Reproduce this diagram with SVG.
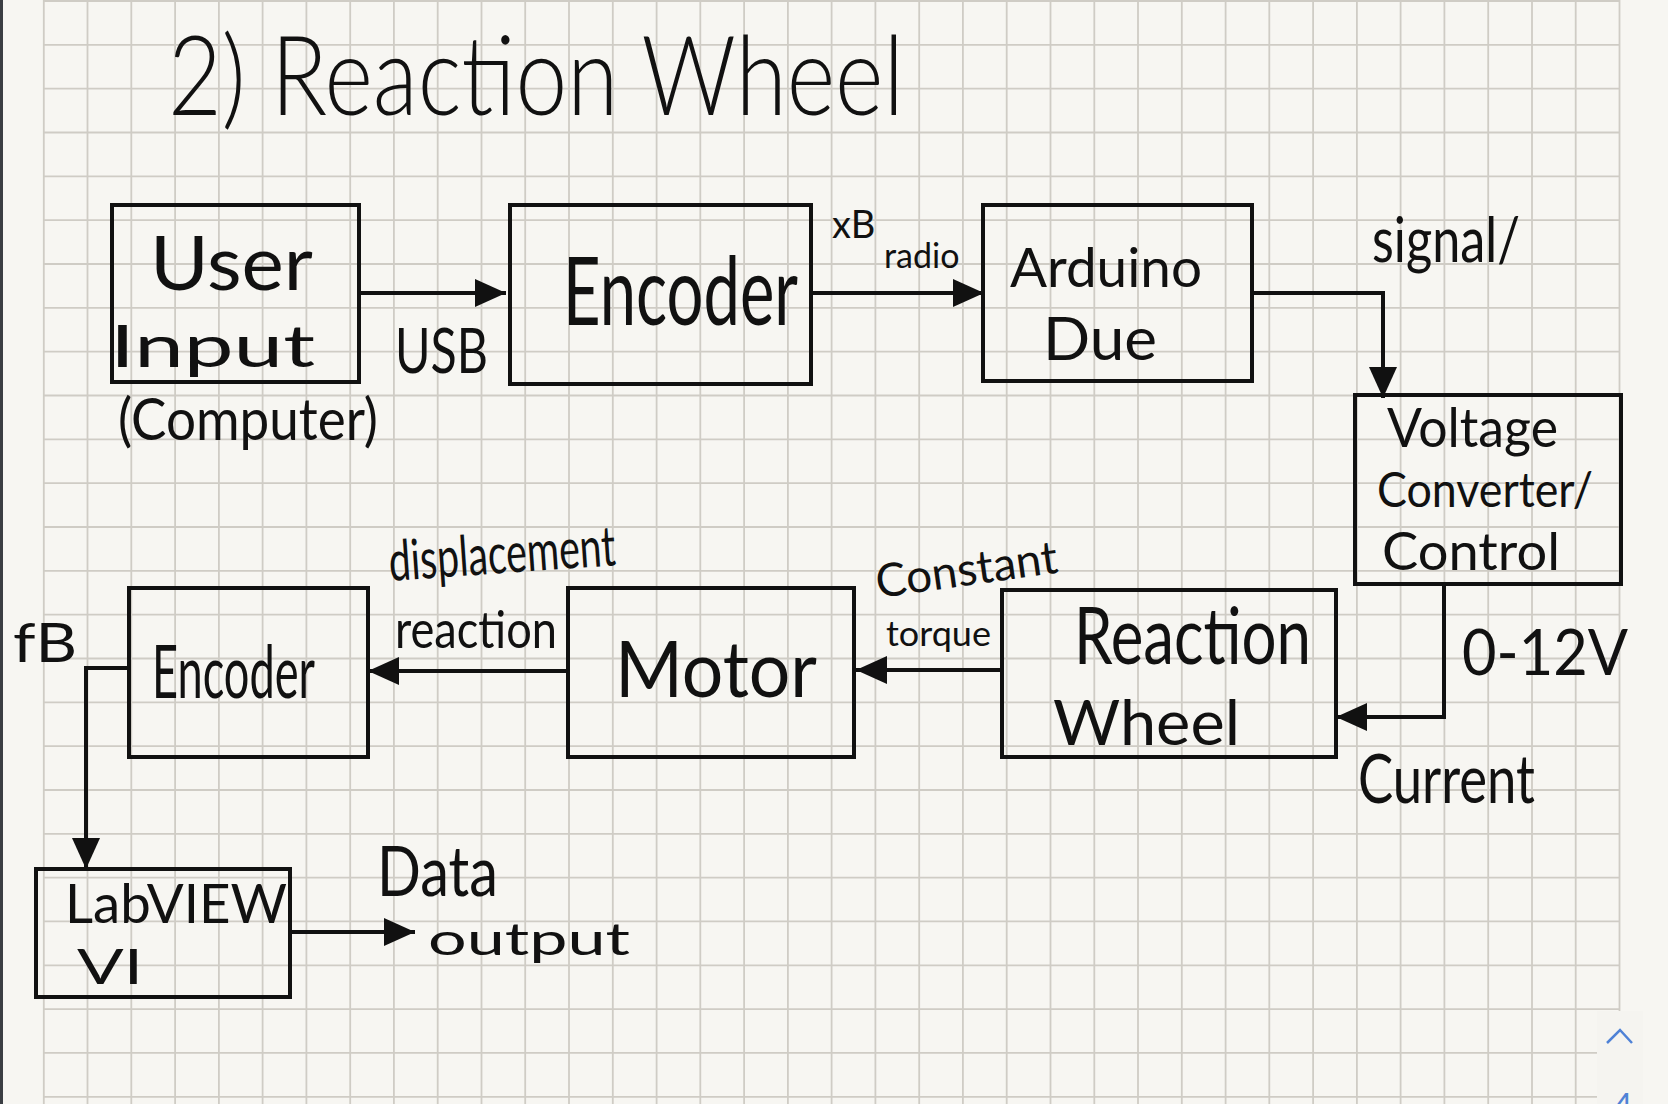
<svg xmlns="http://www.w3.org/2000/svg" width="1668" height="1104" viewBox="0 0 1668 1104">
<style>
.paper{fill:#f7f6f2}
.grid{fill:none;stroke:#cfccc5;stroke-width:1.8}
.box{fill:none;stroke:#111;stroke-width:4}
.conn{fill:none;stroke:#111;stroke-width:4}
.t{font-family:Lato,"Liberation Sans",sans-serif;fill:#111}
.title{font-family:Lato,"Liberation Sans",sans-serif;font-weight:300;fill:#111}
</style>
<defs>
<marker id="ah" markerUnits="userSpaceOnUse" markerWidth="32" markerHeight="28" refX="31" refY="14" orient="auto">
<path d="M0,0 L31,14 L0,28 Z" fill="#111"/>
</marker>
</defs>
<rect class="paper" x="0" y="0" width="1668" height="1104"/>
<g id="grid">
<path class="grid" d="M43.8,0V1104M87.5,0V1104M131.3,0V1104M175.1,0V1104M218.9,0V1104M262.6,0V1104M306.4,0V1104M350.2,0V1104M393.9,0V1104M437.7,0V1104M481.5,0V1104M525.2,0V1104M569,0V1104M612.8,0V1104M656.6,0V1104M700.3,0V1104M744.1,0V1104M787.9,0V1104M831.6,0V1104M875.4,0V1104M919.2,0V1104M962.9,0V1104M1006.7,0V1104M1050.5,0V1104M1094.3,0V1104M1138,0V1104M1181.8,0V1104M1225.6,0V1104M1269.3,0V1104M1313.1,0V1104M1356.9,0V1104M1400.6,0V1104M1444.4,0V1104M1488.2,0V1104M1532,0V1104M1575.7,0V1104M1619.5,0V1104"/>
<path class="grid" d="M43.8,1H1620M43.8,44.8H1620M43.8,88.7H1620M43.8,132.5H1620M43.8,176.3H1620M43.8,220.2H1620M43.8,264H1620M43.8,307.8H1620M43.8,351.6H1620M43.8,395.5H1620M43.8,439.3H1620M43.8,483.1H1620M43.8,527H1620M43.8,570.8H1620M43.8,614.6H1620M43.8,658.5H1620M43.8,702.3H1620M43.8,746.1H1620M43.8,790H1620M43.8,833.8H1620M43.8,877.6H1620M43.8,921.4H1620M43.8,965.3H1620M43.8,1009.1H1620M43.8,1052.9H1620M43.8,1096.8H1620"/>
</g>
<rect x="0" y="0" width="3" height="1104" fill="#3b3e43"/>
<rect x="1597" y="1011" width="46" height="93" fill="#f5f4f0"/>
<path d="M1607,1043 L1620,1030 L1632,1043" fill="none" stroke="#4f82d6" stroke-width="2.5"/>
<text x="1613" y="1118" font-family="Lato,'Liberation Sans',sans-serif" font-size="34" fill="#4f82d6">4</text>

<text class="title" x="168" y="115" font-size="110" textLength="736" lengthAdjust="spacingAndGlyphs">2) Reaction Wheel</text>

<g id="connectors">
<path class="conn" d="M359,293 H506" marker-end="url(#ah)"/>
<path class="conn" d="M811,293 H984" marker-end="url(#ah)"/>
<path class="conn" d="M1252,293 H1383 V398" marker-end="url(#ah)"/>
<path class="conn" d="M1444,584 V717 H1336" marker-end="url(#ah)"/>
<path class="conn" d="M1002,670 H856" marker-end="url(#ah)"/>
<path class="conn" d="M568,671 H368" marker-end="url(#ah)"/>
<path class="conn" d="M129,668 H86 V869" marker-end="url(#ah)"/>
<path class="conn" d="M290,932 H415" marker-end="url(#ah)"/>
</g>

<g id="edge-labels">
<text class="t" x="395" y="373" font-size="62" textLength="93" lengthAdjust="spacingAndGlyphs">USB</text>
<text class="t" x="832" y="238" font-size="38">xB</text>
<text class="t" x="884" y="268" font-size="34">radio</text>
<text class="t" x="1372" y="262" font-size="62" textLength="148" lengthAdjust="spacingAndGlyphs">signal/</text>
<text class="t" x="1462" y="675" font-size="64" textLength="166" lengthAdjust="spacingAndGlyphs">0-12V</text>
<text class="t" x="1358" y="803" font-size="68" textLength="177" lengthAdjust="spacingAndGlyphs">Current</text>
<text class="t" x="878" y="598" font-size="46" textLength="183" lengthAdjust="spacingAndGlyphs" transform="rotate(-8 878 598)">Constant</text>
<text class="t" x="886" y="646" font-size="34" textLength="105" lengthAdjust="spacingAndGlyphs">torque</text>
<text class="t" x="390" y="581" font-size="56" textLength="227" lengthAdjust="spacingAndGlyphs" transform="rotate(-4 390 581)">displacement</text>
<text class="t" x="395" y="648" font-size="52" textLength="162" lengthAdjust="spacingAndGlyphs">reaction</text>
<text class="t" x="13" y="662" font-size="54" textLength="64" lengthAdjust="spacingAndGlyphs">fB</text>
<text class="t" x="377" y="896" font-size="70" textLength="121" lengthAdjust="spacingAndGlyphs">Data</text>
<text class="t" x="428" y="955" font-size="44" textLength="202" lengthAdjust="spacingAndGlyphs">output</text>
</g>

<g id="node-user-input">
<rect class="box" x="112" y="205" width="247" height="177"/>
<text class="t" x="150" y="290" font-size="76" textLength="163" lengthAdjust="spacingAndGlyphs">User</text>
<text class="t" x="110" y="367" font-size="58" textLength="205" lengthAdjust="spacingAndGlyphs">Input</text>
<text class="t" x="118" y="440" font-size="58" textLength="260" lengthAdjust="spacingAndGlyphs">(Computer)</text>
</g>
<g id="node-encoder-top">
<rect class="box" x="510" y="205" width="301" height="179"/>
<text class="t" x="563" y="325" font-size="66" textLength="235" lengthAdjust="spacingAndGlyphs" transform="matrix(1,0,0,1.45,0,-146.25)">Encoder</text>
</g>
<g id="node-arduino">
<rect class="box" x="983" y="205" width="269" height="176"/>
<text class="t" x="1010" y="287" font-size="54" textLength="192" lengthAdjust="spacingAndGlyphs">Arduino</text>
<text class="t" x="1043" y="360" font-size="60" textLength="114" lengthAdjust="spacingAndGlyphs">Due</text>
</g>
<g id="node-voltage">
<rect class="box" x="1355" y="395" width="266" height="189"/>
<text class="t" x="1387" y="447" font-size="54" textLength="171" lengthAdjust="spacingAndGlyphs">Voltage</text>
<text class="t" x="1377" y="507" font-size="48" textLength="216" lengthAdjust="spacingAndGlyphs">Converter/</text>
<text class="t" x="1382" y="570" font-size="52" textLength="178" lengthAdjust="spacingAndGlyphs">Control</text>
</g>
<g id="node-reaction-wheel">
<rect class="box" x="1002" y="590" width="334" height="167"/>
<text class="t" x="1074" y="664" font-size="80" textLength="237" lengthAdjust="spacingAndGlyphs">Reaction</text>
<text class="t" x="1053" y="745" font-size="62" textLength="187" lengthAdjust="spacingAndGlyphs">Wheel</text>
</g>
<g id="node-motor">
<rect class="box" x="568" y="588" width="286" height="169"/>
<text class="t" x="615" y="697" font-size="78" textLength="202" lengthAdjust="spacingAndGlyphs">Motor</text>
</g>
<g id="node-encoder-bottom">
<rect class="box" x="129" y="588" width="239" height="169"/>
<text class="t" x="152" y="698" font-size="74" textLength="163" lengthAdjust="spacingAndGlyphs">Encoder</text>
</g>
<g id="node-labview">
<rect class="box" x="36" y="869" width="254" height="128"/>
<text class="t" x="65" y="923" font-size="54" textLength="222" lengthAdjust="spacingAndGlyphs">LabVIEW</text>
<text class="t" x="77" y="984" font-size="48" textLength="66" lengthAdjust="spacingAndGlyphs">VI</text>
</g>
</svg>
